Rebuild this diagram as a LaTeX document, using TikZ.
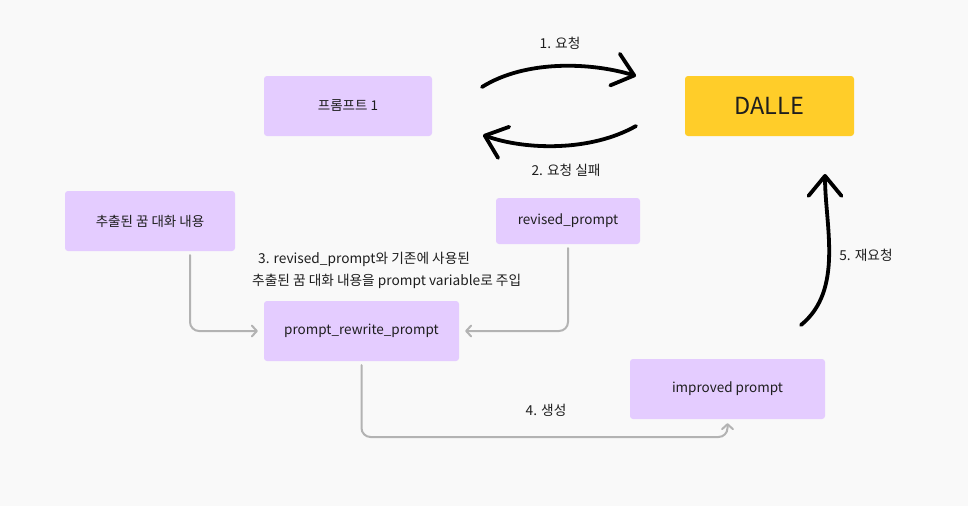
\documentclass[tikz,border=0pt]{standalone}
\usepackage{fontspec}
\setmainfont{Noto Sans CJK KR}
\usetikzlibrary{arrows.meta}
\definecolor{bg}{HTML}{F9F9F9}
\definecolor{boxpurple}{HTML}{E4CCFF}
\definecolor{boxyellow}{HTML}{FFCD29}
\definecolor{conngray}{HTML}{B3B3B3}
\definecolor{txt}{HTML}{1E1E1E}
\tikzset{
  pbox/.style={fill=boxpurple, rounded corners=3pt, inner sep=0pt, text=txt, font=\fontsize{13.5}{16}\selectfont},
  ybox/.style={fill=boxyellow, rounded corners=3pt, inner sep=0pt, text=txt, font=\fontsize{23.5}{28}\selectfont},
  lbl/.style={text=txt, font=\fontsize{13.7}{16}\selectfont, inner sep=0pt},
  conn/.style={draw=conngray, line width=2pt, rounded corners=9pt, line cap=round,
    -{Straight Barb[length=5pt,width=11pt,line cap=round,line join=round]}},
  bigarrow/.style={draw=black, line width=3.8pt, line cap=round,
    -{Straight Barb[length=20pt,width=33pt,line cap=round,line join=round]}}
}
\begin{document}
\begin{tikzpicture}[x=1pt,y=-1pt]
\useasboundingbox[fill=bg] (0,0) rectangle (968,506);
% boxes
\node[pbox, minimum width=168pt, minimum height=60pt] (p1) at (348,106) {프롬프트 1};
\node[ybox, minimum width=169pt, minimum height=60pt] (dalle) at (769.5,106) {DALLE};
\node[pbox, minimum width=170pt, minimum height=60pt] (ext) at (150,221) {추출된 꿈 대화 내용};
\node[pbox, minimum width=144pt, minimum height=46pt] (rev) at (568,221) {revised\_prompt};
\node[pbox, minimum width=195pt, minimum height=60pt] (prw) at (361.5,331) {prompt\_rewrite\_prompt};
\node[pbox, minimum width=195pt, minimum height=60pt] (imp) at (727.5,389) {improved prompt};
% coordinates for the curved arrows
\coordinate (a1s) at (482,87);
\coordinate (a1e) at (636,76);
\coordinate (a2s) at (636,126);
\coordinate (a2e) at (483,135);
\coordinate (a5s) at (801,325);
\coordinate (a5e) at (825,174);
\coordinate (ext1) at (190,255);
\coordinate (b1) at (0,437);
% big black arrows
\draw[bigarrow] (a1s) .. controls (525,60) and (590,62) .. (a1e);
\draw[bigarrow] (a2s) .. controls (590,152) and (525,150) .. (a2e);
\draw[bigarrow] (a5s) .. controls (844,290) and (825,225) .. (a5e);
% gray connectors
\draw[conn, shorten >=6pt] (ext1) |- (prw.west);
\draw[conn, shorten >=6pt, shorten <=4pt] (rev.south) |- (prw.east);
\draw[conn, shorten >=4pt, shorten <=4pt] (prw.south) -- (prw.south |- b1) -- (imp.south |- b1) -- (imp.south);
% labels
\node[lbl] (l1) at (560,43) {1. 요청};
\node[lbl] (l2) at (566,170) {2. 요청 실패};
\node[lbl, anchor=west] (l3a) at (258,259) {3. revised\_prompt와 기존에 사용된};
\node[lbl, anchor=west] (l3b) at (252,281) {추출된 꿈 대화 내용을 prompt variable로 주입};
\node[lbl] (l4) at (546,410) {4. 생성};
\node[lbl] (l5) at (866,255) {5. 재요청};
\end{tikzpicture}
\end{document}
